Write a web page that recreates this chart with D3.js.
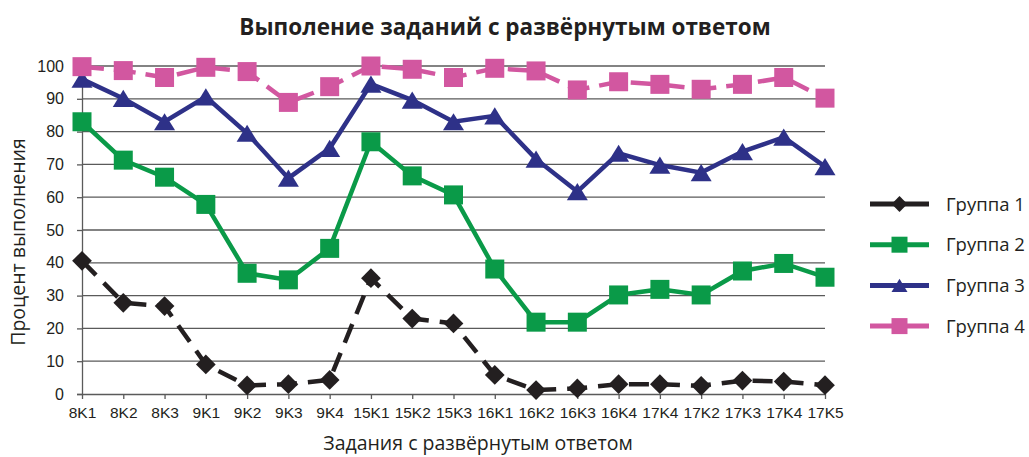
<!DOCTYPE html>
<html>
<head>
<meta charset="utf-8">
<script src="https://cdn.jsdelivr.net/npm/d3@7"></script>
<style>
  body { margin: 0; background: #fff; }
  svg { font-family: "Open Sans", "Noto Sans", sans-serif; }
</style>
</head>
<body>
<div id="chart"></div>
<script>
// categories on the x axis
const tasks = ["8K1", "8K2", "8K3", "9K1", "9K2", "9K3", "9K4", "15K1", "15K2", "15K3",
  "16K1", "16K2", "16K3", "16K4", "17K4", "17K2", "17K3", "17K4", "17K5"];

// percent of completion per group
const group1 = [40.6, 27.8, 26.8, 9.0, 2.6, 3.0, 4.3, 35.3, 23.0, 21.5, 5.8, 1.2, 1.7, 3.0, 3.0, 2.5, 4.1, 3.8, 2.7];
const group2 = [83.0, 71.3, 66.1, 57.8, 36.8, 34.8, 44.4, 76.9, 66.5, 60.7, 38.1, 21.9, 21.9, 30.2, 31.9, 30.2, 37.5, 39.8, 35.6];
const group3 = [96.0, 90.1, 83.0, 90.6, 79.5, 65.8, 74.9, 94.5, 89.6, 83.0, 84.8, 71.6, 61.7, 73.4, 69.8, 67.5, 73.9, 78.3, 69.3];
const group4 = [99.8, 98.6, 96.5, 99.6, 98.3, 88.9, 93.7, 100, 99.0, 96.5, 99.3, 98.5, 92.7, 95.2, 94.4, 92.9, 94.4, 96.5, 90.2];

const yTicks = [0, 10, 20, 30, 40, 50, 60, 70, 80, 90, 100];
const groupNames = ["Группа 1", "Группа 2", "Группа 3", "Группа 4"];

const series = [
  { name: groupNames[0], values: group1, color: "#231f20", marker: "diamond", dash: "20,11" },
  { name: groupNames[1], values: group2, color: "#0a9a48", marker: "square", dash: null },
  { name: groupNames[2], values: group3, color: "#2e3188", marker: "triangle", dash: null },
  { name: groupNames[3], values: group4, color: "#d257a0", marker: "square", dash: "22,10" }
];

const width = 1029, height = 457;
const plot = { left: 82, right: 825, top: 66, bottom: 394 };

const svg = d3.select("#chart").append("svg")
  .attr("width", width)
  .attr("height", height);

// point scale by index so repeated labels (17K4) stay separate
const x = d3.scalePoint()
  .domain(d3.range(tasks.length))
  .range([plot.left, plot.right]);

const y = d3.scaleLinear()
  .domain([0, 100])
  .range([plot.bottom, plot.top]);

// gridlines
svg.append("g")
  .selectAll("line")
  .data(yTicks.filter(d => d > 0))
  .enter()
  .append("line")
  .attr("x1", plot.left)
  .attr("x2", plot.right)
  .attr("y1", d => y(d))
  .attr("y2", d => y(d))
  .attr("stroke", "#5a5a5a")
  .attr("stroke-width", 1.3);

// y axis
const yAxis = svg.append("g")
  .attr("transform", `translate(${plot.left},0)`)
  .call(d3.axisLeft(y).tickValues(yTicks).tickSize(5).tickPadding(13));
yAxis.select(".domain").attr("stroke", "#5a5a5a").attr("stroke-width", 1.3);
yAxis.selectAll(".tick line").attr("stroke", "#5a5a5a").attr("stroke-width", 1.3);
yAxis.selectAll("text").attr("font-size", 16).attr("fill", "#231f20");

// x axis
const xAxis = svg.append("g")
  .attr("transform", `translate(0,${plot.bottom})`)
  .call(d3.axisBottom(x).tickFormat(i => tasks[i]).tickSize(5).tickPadding(8).tickSizeOuter(0));
xAxis.select(".domain").attr("stroke", "#5a5a5a").attr("stroke-width", 1.3);
xAxis.selectAll(".tick line").attr("stroke", "#5a5a5a").attr("stroke-width", 1.3);
xAxis.selectAll("text").attr("font-size", 15.5).attr("fill", "#231f20");

function markerPath(type, size) {
  if (type === "diamond") return d3.symbol(d3.symbolDiamond2, size * size * 0.62)();
  if (type === "triangle") {
    const w = size, h = size * 0.82;
    return `M0,${-h / 2}L${w / 2},${h / 2}L${-w / 2},${h / 2}Z`;
  }
  const s = size / 2;
  return `M${-s},${-s}H${s}V${s}H${-s}Z`;
}

const line = d3.line()
  .x((d, i) => x(i))
  .y(d => y(d));

const markerSize = { diamond: 20, square: 19, triangle: 21 };

series.forEach(s => {
  svg.append("path")
    .datum(s.values)
    .attr("fill", "none")
    .attr("stroke", s.color)
    .attr("stroke-width", 4.5)
    .attr("stroke-dasharray", s.dash)
    .attr("d", line);

  svg.append("g")
    .selectAll("path")
    .data(s.values)
    .enter()
    .append("path")
    .attr("transform", (d, i) => `translate(${x(i)},${y(d)})`)
    .attr("d", markerPath(s.marker, markerSize[s.marker]))
    .attr("fill", s.color);
});

// legend
const legend = svg.append("g");
series.forEach((s, i) => {
  const ly = 204 + i * 40.7;
  legend.append("line")
    .attr("x1", 870).attr("x2", 929)
    .attr("y1", ly).attr("y2", ly)
    .attr("stroke", s.color)
    .attr("stroke-width", 5);
  legend.append("path")
    .attr("transform", `translate(899.5,${ly})`)
    .attr("d", markerPath(s.marker, 16))
    .attr("fill", s.color);
  legend.append("text")
    .attr("x", 946)
    .attr("y", ly)
    .attr("dy", "0.36em")
    .attr("font-size", 18.5)
    .attr("fill", "#231f20")
    .text(s.name);
});

// title and axis labels
svg.append("text")
  .attr("x", 505)
  .attr("y", 35)
  .attr("text-anchor", "middle")
  .attr("font-size", 22.5)
  .attr("font-weight", "bold")
  .attr("fill", "#231f20")
  .text("Выполение заданий с развёрнутым ответом");

svg.append("text")
  .attr("transform", `translate(25,242) rotate(-90)`)
  .attr("text-anchor", "middle")
  .attr("font-size", 19.5)
  .attr("fill", "#231f20")
  .text("Процент выполнения");

svg.append("text")
  .attr("x", 478)
  .attr("y", 450)
  .attr("text-anchor", "middle")
  .attr("font-size", 19.5)
  .attr("fill", "#231f20")
  .text("Задания с развёрнутым ответом");
</script>
</body>
</html>
